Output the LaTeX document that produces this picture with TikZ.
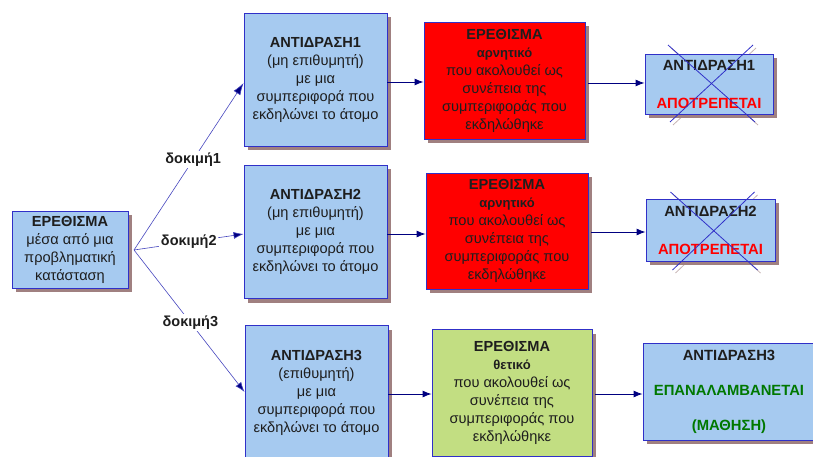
\documentclass[tikz,border=0pt]{standalone}
\usepackage{fontspec}
\setmainfont{Liberation Sans}
\usetikzlibrary{arrows.meta,shadows}
\definecolor{boxblue}{RGB}{166,202,240}
\definecolor{edgeblue}{RGB}{48,48,200}
\definecolor{shadowc}{RGB}{160,128,128}
\definecolor{redbox}{RGB}{255,0,0}
\definecolor{greenbox}{RGB}{194,222,130}
\definecolor{navy}{RGB}{0,0,128}
\definecolor{forkline}{RGB}{70,70,190}
\definecolor{darkgreen}{RGB}{0,120,0}
\definecolor{txt}{RGB}{30,30,30}
\tikzset{
  card/.style={draw=edgeblue, line width=0.9pt, align=center, inner sep=1pt,
    text=txt, font=\fontsize{14.6}{18}\selectfont,
    drop shadow={shadow xshift=4pt, shadow yshift=-4pt, fill=shadowc, opacity=1}},
  bluecard/.style={card, fill=boxblue},
  redcard/.style={card, fill=redbox},
  greencard/.style={card, fill=greenbox},
  harrow/.style={draw=navy, line width=0.9pt, -{Latex[length=9pt,width=7pt]}},
  forkarrow/.style={draw=forkline, line width=0.6pt, -{Latex[length=12pt,width=8pt,fill=navy]}},
  trylabel/.style={fill=white, inner sep=1.5pt, font=\fontsize{14.5}{16}\selectfont\bfseries, text=txt},
  crossline/.style={draw=edgeblue, line width=0.8pt},
  crossshadow/.style={draw=shadowc!60, line width=0.8pt},
}
\begin{document}
\begin{tikzpicture}[x=1pt,y=-1pt]
\useasboundingbox (0,0) rectangle (813,457);

% left stimulus
\node[bluecard, minimum width=116pt, minimum height=77pt] (E0) at (70,249.5)
  {\textbf{ΕΡΕΘΙΣΜΑ}\\μέσα από μια\\προβληματική\\κατάσταση};

% responses
\node[bluecard, minimum width=143pt, minimum height=133pt] (A1) at (315.5,80)
  {\textbf{ΑΝΤΙΔΡΑΣΗ1}\\(μη επιθυμητή)\\με μια\\συμπεριφορά που\\εκδηλώνει το άτομο};
\node[bluecard, minimum width=143pt, minimum height=133pt] (A2) at (315.5,232)
  {\textbf{ΑΝΤΙΔΡΑΣΗ2}\\(μη επιθυμητή)\\με μια\\συμπεριφορά που\\εκδηλώνει το άτομο};
\node[bluecard, minimum width=143pt, minimum height=135pt] (A3) at (316.5,393)
  {\textbf{ΑΝΤΙΔΡΑΣΗ3}\\(επιθυμητή)\\με μια\\συμπεριφορά που\\εκδηλώνει το άτομο};

% consequences
\node[redcard, minimum width=161pt, minimum height=117pt] (R1) at (504.5,81)
  {\textbf{ΕΡΕΘΙΣΜΑ}\\{\fontsize{13}{18}\selectfont\bfseries αρνητικό}\\που ακολουθεί ως\\συνέπεια της\\συμπεριφοράς που\\εκδηλώθηκε};
\node[redcard, minimum width=162pt, minimum height=116pt] (R2) at (507,231)
  {\textbf{ΕΡΕΘΙΣΜΑ}\\{\fontsize{13}{18}\selectfont\bfseries αρνητικό}\\που ακολουθεί ως\\συνέπεια της\\συμπεριφοράς που\\εκδηλώθηκε};
\node[greencard, minimum width=160pt, minimum height=127pt] (G3) at (512,393)
  {\textbf{ΕΡΕΘΙΣΜΑ}\\{\fontsize{13}{18}\selectfont\bfseries θετικό}\\που ακολουθεί ως\\συνέπεια της\\συμπεριφοράς που\\εκδηλώθηκε};

% final outcomes
\coordinate (f1c) at (709,84);
\coordinate (f2c) at (710.5,230);
\draw[crossshadow, shift={(f1c)}] (-38,-36) -- (49,41);
\draw[crossshadow, shift={(f1c)}] (47,-36) -- (-36,41);
\draw[crossshadow, shift={(f2c)}] (-37,-35) -- (50,43);
\draw[crossshadow, shift={(f2c)}] (47,-35) -- (-35,43);

\node[bluecard, minimum width=128pt, minimum height=60pt, font=\fontsize{14.8}{19}\selectfont\bfseries] (F1) at (f1c)
  {ΑΝΤΙΔΡΑΣΗ1\\[19pt]\textcolor{red}{ΑΠΟΤΡΕΠΕΤΑΙ}};
\node[bluecard, minimum width=129pt, minimum height=62pt, font=\fontsize{14.8}{19}\selectfont\bfseries] (F2) at (f2c)
  {ΑΝΤΙΔΡΑΣΗ2\\[19pt]\textcolor{red}{ΑΠΟΤΡΕΠΕΤΑΙ}};
\node[bluecard, minimum width=172pt, minimum height=97pt, font=\fontsize{14.8}{35}\selectfont\bfseries] (F3) at (729,391.5)
  {ΑΝΤΙΔΡΑΣΗ3\\\textcolor{darkgreen}{ΕΠΑΝΑΛΑΜΒΑΝΕΤΑΙ}\\\textcolor{darkgreen}{(ΜΑΘΗΣΗ)}};

\draw[crossline, shift={(f1c)}] (-41,-39) -- (46,38);
\draw[crossline, shift={(f1c)}] (44,-39) -- (-39,38);
\draw[crossline, shift={(f2c)}] (-40,-38) -- (47,40);
\draw[crossline, shift={(f2c)}] (44,-38) -- (-38,40);

% fork
\coordinate (fork) at (134,250);
\draw[forkarrow] (fork) -- (A1.west |- 0,83) node[trylabel, pos=0.54] (L1) {δοκιμή1};
\draw[forkarrow, -{Latex[length=10pt,width=7pt,fill=navy]}] (fork) -- (A2.west |- 0,234) node[trylabel, pos=0.5] (L2) {δοκιμή2};
\draw[forkarrow, -{Latex[length=10pt,width=7pt,fill=navy]}] (fork) -- (A3.west |- 0,392) node[trylabel, pos=0.51] (L3) {δοκιμή3};

% horizontal arrows
\draw[harrow] (A1.east |- 0,82) -- (R1.west |- 0,82);
\draw[harrow] (A2.east |- 0,234) -- (R2.west |- 0,234);
\draw[harrow] (A3.east |- 0,394) -- (G3.west |- 0,394);
\draw[harrow] ([xshift=3pt]R1.east |- 0,83) -- (F1.west |- 0,83);
\draw[harrow] ([xshift=3pt]R2.east |- 0,232) -- (F2.west |- 0,232);
\draw[harrow] ([xshift=3pt]G3.east |- 0,394) -- (F3.west |- 0,394);
\end{tikzpicture}
\end{document}
